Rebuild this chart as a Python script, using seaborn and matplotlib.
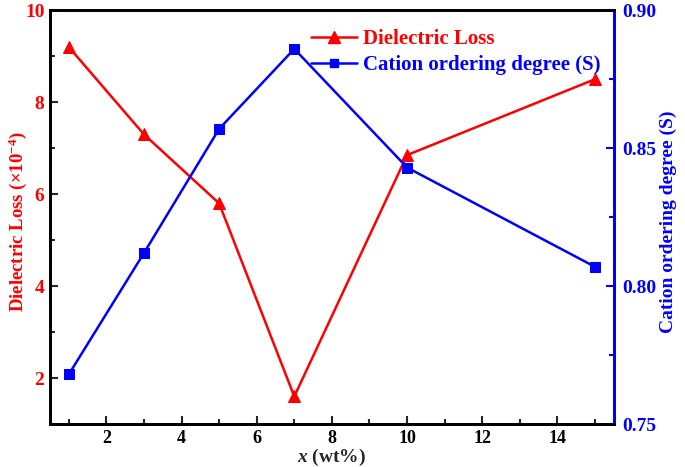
import matplotlib
matplotlib.use("Agg")
import matplotlib.pyplot as plt
import seaborn as sns
import pandas as pd
from matplotlib.ticker import MultipleLocator
from matplotlib.lines import Line2D

x_wt = [1, 3, 5, 7, 10, 15]
dielectric_loss = [9.2, 7.3, 5.8, 1.6, 6.85, 8.5]
cation_order = [0.768, 0.812, 0.857, 0.886, 0.843, 0.807]

sns.set_style("ticks")
plt.rcParams['font.family'] = ['Liberation Serif', 'DejaVu Serif']
plt.rcParams['font.weight'] = 'bold'
plt.rcParams['mathtext.fontset'] = 'custom'
plt.rcParams['mathtext.rm'] = 'Liberation Serif:bold'
plt.rcParams['mathtext.it'] = 'Liberation Serif:italic:bold'
plt.rcParams['mathtext.bf'] = 'Liberation Serif:bold'

df = pd.DataFrame({"x": x_wt, "loss": dielectric_loss, "S": cation_order})

fig, ax = plt.subplots(figsize=(6.85, 4.67), dpi=100)
fig.subplots_adjust(left=0.073, right=0.896, top=0.978, bottom=0.092)
ax2 = ax.twinx()

sns.lineplot(data=df, x="x", y="loss", ax=ax, color="#ff0000", marker="^",
             markersize=9, markeredgecolor="#ff0000", linewidth=1.8)
sns.lineplot(data=df, x="x", y="S", ax=ax2, color="#0000ff", marker="s",
             markersize=7, markeredgecolor="#0000ff", linewidth=1.8)

ax.set_xlim(0.5, 15.5)
ax.set_ylim(1, 10)
ax2.set_ylim(0.75, 0.90)
ax.xaxis.set_major_locator(MultipleLocator(2))
ax.xaxis.set_minor_locator(MultipleLocator(1))
ax.yaxis.set_major_locator(MultipleLocator(2))
ax.yaxis.set_minor_locator(MultipleLocator(1))
ax2.yaxis.set_major_locator(MultipleLocator(0.05))
ax2.yaxis.set_minor_locator(MultipleLocator(0.025))

ax.tick_params(axis='both', which='both', direction='in', width=1.5)
ax.tick_params(which='major', length=6)
ax.tick_params(which='minor', length=3.5)
ax.tick_params(axis='x', labelsize=13, labelcolor='black', pad=4)
ax.tick_params(axis='y', labelsize=14, labelcolor='#ff0000', pad=4)
ax2.tick_params(axis='y', which='both', direction='in', width=1.5, color='#0000ff',
                labelsize=14, labelcolor='#0000ff', pad=6)
ax2.tick_params(which='major', length=6)
ax2.tick_params(which='minor', length=3.5)
ax2.yaxis.set_major_formatter(matplotlib.ticker.FormatStrFormatter('%.2f'))

for lab in ax.get_xticklabels() + ax.get_yticklabels() + ax2.get_yticklabels():
    lab.set_fontweight('bold')

for a in (ax, ax2):
    for s in a.spines.values():
        s.set_linewidth(2)
        s.set_color('black')
ax2.spines['right'].set_color('#0000ff')

ax.set_xlabel("$x$ (wt%)", fontsize=14, fontweight='bold')
ax.xaxis.set_label_coords(0.5, -0.081)
ax.xaxis.label.set_verticalalignment('center')
ax.set_ylabel("Dielectric Loss (×10$^{-4}$)", fontsize=13.5, fontweight='bold',
              color='#ff0000')
ax.yaxis.set_label_coords(-0.058, 0.49)
ax.yaxis.label.set_verticalalignment('center')
ax2.set_ylabel("Cation ordering degree (S)", fontsize=14, fontweight='bold',
               color='#0000ff')
ax2.yaxis.set_label_coords(1.097, 0.49)
ax2.yaxis.label.set_verticalalignment('center')

handles = [
    Line2D([], [], color='#ff0000', marker='^', markersize=8, linewidth=1.8),
    Line2D([], [], color='#0000ff', marker='s', markersize=6, linewidth=1.8),
]
leg = ax.legend(handles, ["Dielectric Loss", "Cation ordering degree (S)"],
                loc='upper left', bbox_to_anchor=(0.43, 1.0), frameon=False,
                prop={'size': 15, 'weight': 'bold'}, handlelength=2.2,
                handletextpad=0.3, labelspacing=0.3)
for t, c in zip(leg.get_texts(), ['#ff0000', '#0000ff']):
    t.set_color(c)

fig.savefig("out.png", dpi=100)
